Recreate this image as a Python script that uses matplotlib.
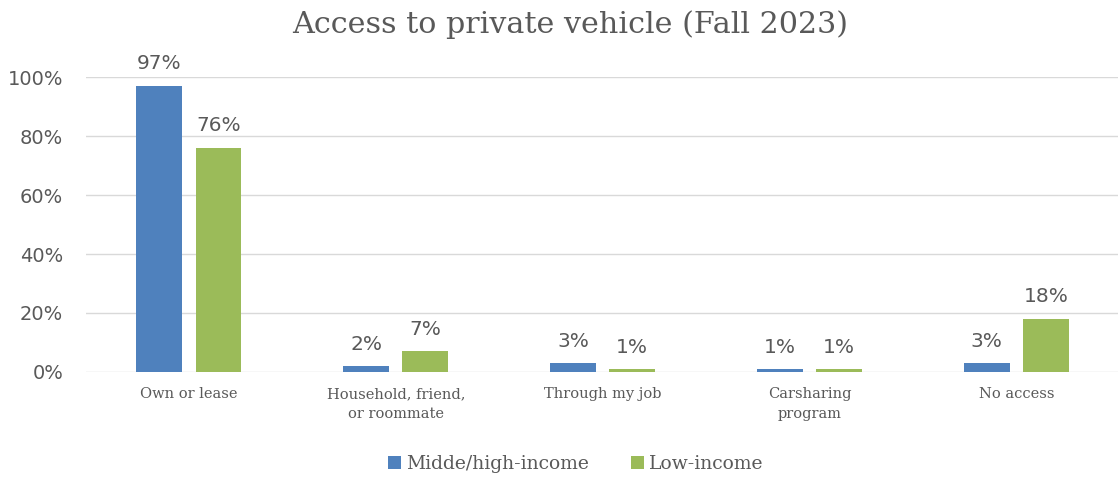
# Access to private vehicle by income group, Fall 2023
import numpy as np
import matplotlib.pyplot as plt

categories = ['Own or lease', 'Household, friend,\nor roommate', 'Through my job',
              'Carsharing\nprogram', 'No access']
mid_high = [97, 2, 3, 1, 3]
low = [76, 7, 1, 1, 18]
series_names = ['Midde/high-income', 'Low-income']

blue = '#4F81BD'
green = '#9BBB59'
text_color = '#595959'
serif = ['DejaVu Serif']

fig = plt.figure(figsize=(11.18, 4.78), dpi=100)
ax = fig.add_axes([0.0765, 0.2218, 0.925, 0.617])

x = np.arange(len(categories))
w = 0.222
off = 0.143
b1 = ax.bar(x - off, mid_high, w, color=blue, label=series_names[0], zorder=3)
b2 = ax.bar(x + off, low, w, color=green, label=series_names[1], zorder=3)

for bars, vals in [(b1, mid_high), (b2, low)]:
    for rect, v in zip(bars, vals):
        ax.annotate(f'{v}%', (rect.get_x() + rect.get_width() / 2, v),
                    xytext=(0, 9), textcoords='offset points', ha='center', va='bottom',
                    fontsize=14.5, color=text_color, clip_on=False)

ax.set_xlim(-0.5, len(categories) - 0.5)
ax.set_ylim(0, 100)
ax.set_yticks(range(0, 101, 20))
ax.set_yticklabels([f'{t}%' for t in range(0, 101, 20)], fontsize=14, color=text_color)
ax.set_xticks(x)
ax.set_xticklabels(categories, fontsize=10.5, color=text_color, family=serif, linespacing=1.5)
ax.tick_params(length=0, axis='both')
ax.tick_params(axis='x', pad=11)
ax.tick_params(axis='y', pad=16)
ax.yaxis.grid(True, color='#D9D9D9', linewidth=1, zorder=0)
for s in ax.spines.values():
    s.set_visible(False)

fig.suptitle('Access to private vehicle (Fall 2023)', x=0.51, y=0.978, fontsize=21.7,
             color=text_color, family=serif)

fig.legend(loc='center', bbox_to_anchor=(0.515, 0.03), ncol=2, frameon=False,
           prop={'family': serif, 'size': 13.5}, labelcolor=text_color,
           handlelength=0.7, handleheight=0.7, handletextpad=0.3, columnspacing=2.2)

fig.savefig('out.png', dpi=100)
